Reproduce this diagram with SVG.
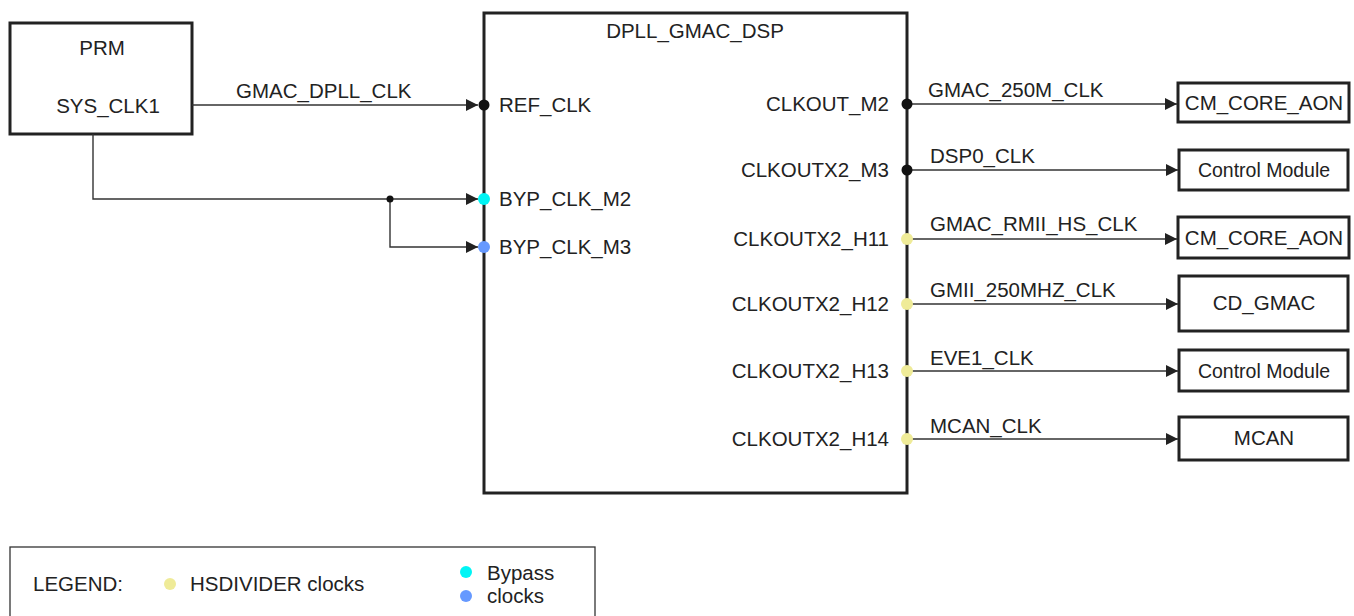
<svg xmlns="http://www.w3.org/2000/svg" width="1354" height="616" viewBox="0 0 1354 616">
<style>
text{font-family:"Liberation Sans",Arial,sans-serif;font-size:20.5px;fill:#222}
.box{fill:#fff;stroke:#222;stroke-width:3}
.ln{fill:none;stroke:#333;stroke-width:1.4}
.mid{text-anchor:middle}
.end{text-anchor:end}
.hs{fill:#efeb98}
.byp{fill:#00f5f5}
.byp3{fill:#6699ff}
.blk{fill:#111}
</style>
<defs>
<marker id="arr" viewBox="0 0 10 10" refX="10" refY="5" markerWidth="12" markerHeight="12" markerUnits="userSpaceOnUse" orient="auto">
<path d="M0,0 L10,5 L0,10 Z" fill="#222"/>
</marker>
</defs>
<g id="prm">
<rect class="box" x="10" y="23" width="182" height="111"/>
<text class="mid" x="102" y="55">PRM</text>
<text class="mid" x="108" y="113">SYS_CLK1</text>
</g>
<g id="dpll">
<rect class="box" x="484" y="13" width="423" height="480"/>
<text class="mid" x="695" y="38">DPLL_GMAC_DSP</text>
<text x="499" y="112">REF_CLK</text>
<text x="499" y="206">BYP_CLK_M2</text>
<text x="499" y="254">BYP_CLK_M3</text>
<text class="end" x="889" y="111">CLKOUT_M2</text>
<text class="end" x="889" y="177">CLKOUTX2_M3</text>
<text class="end" x="889" y="246">CLKOUTX2_H11</text>
<text class="end" x="889" y="311">CLKOUTX2_H12</text>
<text class="end" x="889" y="378">CLKOUTX2_H13</text>
<text class="end" x="889" y="446">CLKOUTX2_H14</text>
</g>
<g id="out1">
<rect class="box" x="1178" y="83" width="171" height="39"/>
<text class="mid" x="1264" y="110">CM_CORE_AON</text>
</g>
<g id="out2">
<rect class="box" x="1179" y="150" width="169" height="40"/>
<text class="mid" x="1264" y="177" style="font-size:19.5px">Control Module</text>
</g>
<g id="out3">
<rect class="box" x="1178" y="217" width="171" height="41"/>
<text class="mid" x="1264" y="245">CM_CORE_AON</text>
</g>
<g id="out4">
<rect class="box" x="1179" y="276" width="169" height="55"/>
<text class="mid" x="1264" y="310">CD_GMAC</text>
</g>
<g id="out5">
<rect class="box" x="1179" y="350" width="169" height="41"/>
<text class="mid" x="1264" y="378" style="font-size:19.5px">Control Module</text>
</g>
<g id="out6">
<rect class="box" x="1179" y="417" width="169" height="43"/>
<text class="mid" x="1264" y="445">MCAN</text>
</g>
<g id="connectors">
<path class="ln" d="M192,105 H478" marker-end="url(#arr)"/>
<text x="236" y="98">GMAC_DPLL_CLK</text>
<path class="ln" d="M93,134 V199 H478" marker-end="url(#arr)"/>
<path class="ln" d="M390,199 V247 H478" marker-end="url(#arr)"/>
<circle class="blk" cx="390" cy="199" r="3.5"/>
<path class="ln" d="M907,104 H1177" marker-end="url(#arr)"/>
<text x="928" y="97">GMAC_250M_CLK</text>
<path class="ln" d="M907,170 H1178" marker-end="url(#arr)"/>
<text x="930" y="163">DSP0_CLK</text>
<path class="ln" d="M907,239 H1177" marker-end="url(#arr)"/>
<text x="930" y="231">GMAC_RMII_HS_CLK</text>
<path class="ln" d="M907,304 H1178" marker-end="url(#arr)"/>
<text x="930" y="297">GMII_250MHZ_CLK</text>
<path class="ln" d="M907,371 H1178" marker-end="url(#arr)"/>
<text x="930" y="365">EVE1_CLK</text>
<path class="ln" d="M907,439 H1178" marker-end="url(#arr)"/>
<text x="930" y="433">MCAN_CLK</text>
</g>
<g id="ports">
<circle class="blk" cx="484" cy="105" r="5.5"/>
<circle class="byp" cx="484" cy="199" r="6"/>
<circle class="byp3" cx="484" cy="247" r="6"/>
<circle class="blk" cx="907" cy="104" r="5.5"/>
<circle class="blk" cx="907" cy="170" r="5.5"/>
<circle class="hs" cx="907" cy="239" r="6"/>
<circle class="hs" cx="907" cy="304" r="6"/>
<circle class="hs" cx="907" cy="371" r="6"/>
<circle class="hs" cx="907" cy="439" r="6"/>
</g>
<g id="legend">
<rect x="10" y="547" width="585" height="80" fill="#fff" stroke="#333" stroke-width="1.3"/>
<text x="33" y="591">LEGEND:</text>
<circle class="hs" cx="170" cy="584" r="6"/>
<text x="190" y="591">HSDIVIDER clocks</text>
<circle class="byp" cx="466" cy="572" r="6"/>
<text x="487" y="580">Bypass</text>
<circle class="byp3" cx="466" cy="596" r="6"/>
<text x="487" y="603">clocks</text>
</g>
</svg>
